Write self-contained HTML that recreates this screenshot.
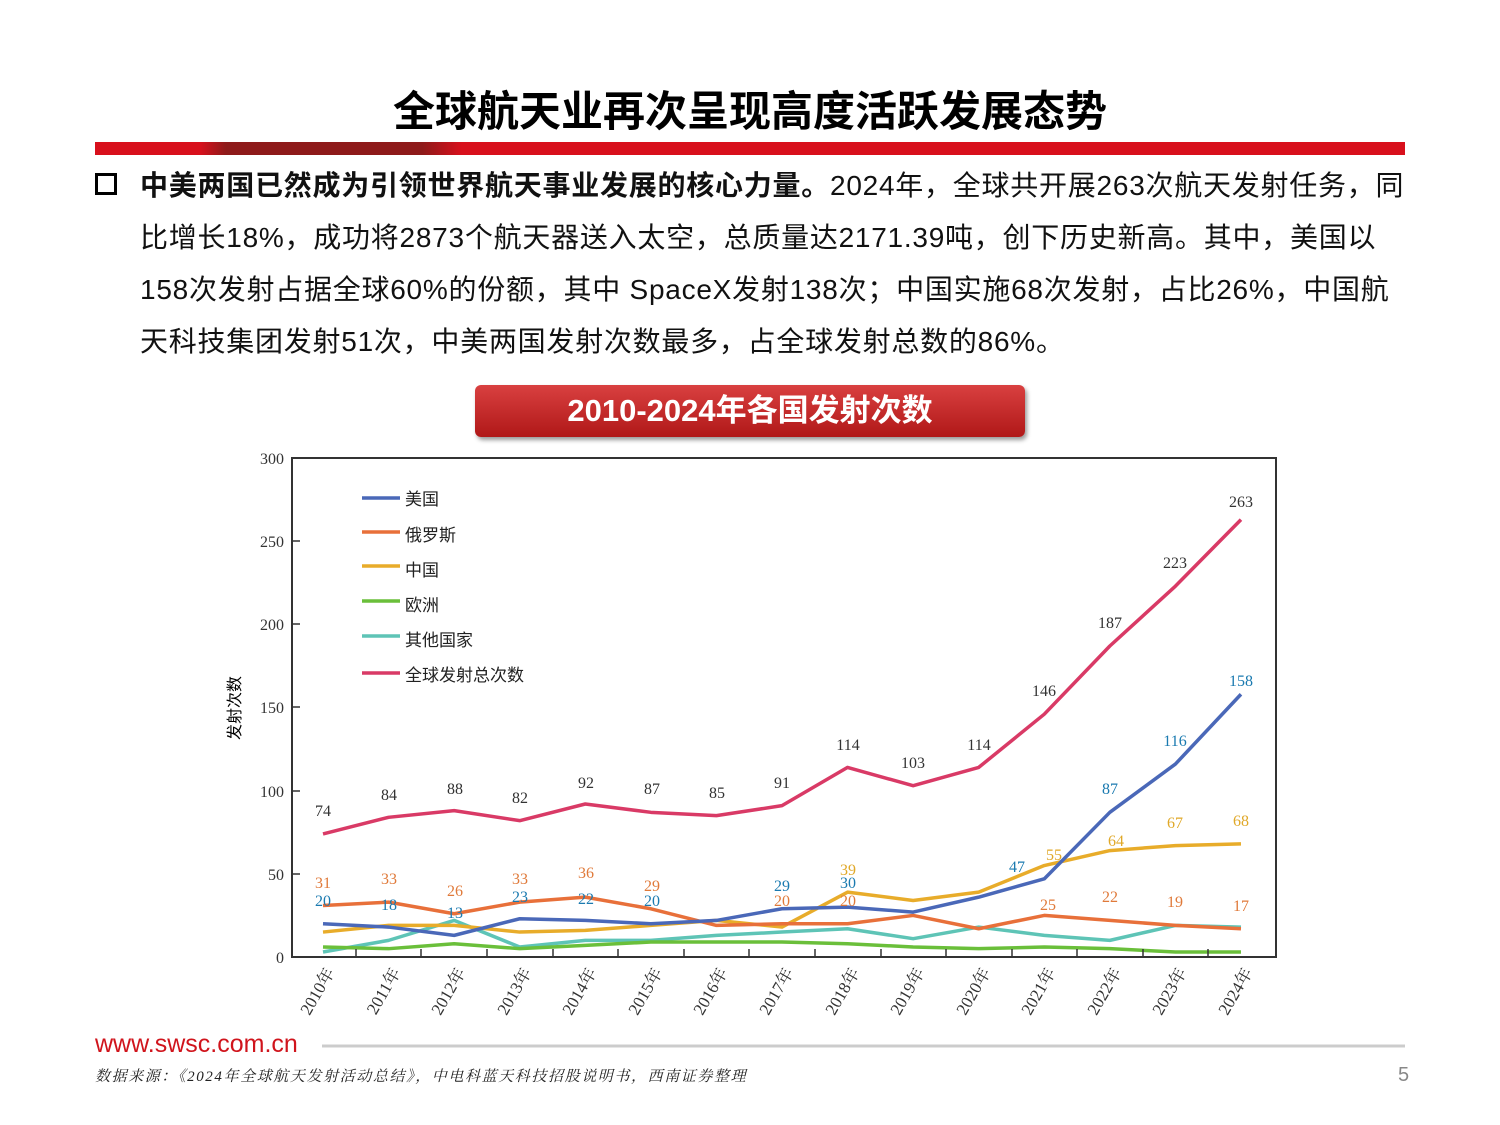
<!DOCTYPE html>
<html><head><meta charset="utf-8"><style>
body{margin:0;width:1500px;height:1125px;background:#fff;position:relative;overflow:hidden;font-family:"Liberation Sans","Noto Sans CJK SC",sans-serif}
.a{position:absolute;white-space:nowrap}
.t{font-size:28px;color:#111;letter-spacing:0.75px}
</style></head><body>
<div class="a" style="left:0;width:1500px;text-align:center;top:78px;font-size:42px;font-weight:bold;color:#000">全球航天业再次呈现高度活跃发展态势</div>
<div class="a" style="left:95px;top:142px;width:1310px;height:13px;background:linear-gradient(90deg,#d8101c 0,#d8101c 8%,#8e1a1a 10%,#8e1a1a 25%,#d8101c 28%,#d8101c 100%)"></div>
<div class="a" style="left:95px;top:173px;width:16px;height:16px;border:3px solid #000"></div>
<div class="a t" style="left:140px;top:164px"><b>中美两国已然成为引领世界航天事业发展的核心力量。</b>2024年，全球共开展263次航天发射任务，同</div>
<div class="a t" style="left:140px;top:216px">比增长18%，成功将2873个航天器送入太空，总质量达2171.39吨，创下历史新高。其中，美国以</div>
<div class="a t" style="left:140px;top:268px">158次发射占据全球60%的份额，其中 SpaceX发射138次；中国实施68次发射，占比26%，中国航</div>
<div class="a t" style="left:140px;top:320px">天科技集团发射51次，中美两国发射次数最多，占全球发射总数的86%。</div>
<div class="a" style="left:475px;top:385px;width:550px;height:52px;border-radius:6px;background:linear-gradient(#d94040,#b01818);box-shadow:2px 3px 4px #999;color:#fff;font-size:31px;font-weight:bold;text-align:center;line-height:52px">2010-2024年各国发射次数</div>
<svg class="a" style="left:0;top:0" width="1500" height="1125" font-family="Liberation Serif,Noto Serif CJK SC,serif">
<rect x="292" y="458" width="984" height="499" fill="none" stroke="#333" stroke-width="2"/>
<g font-size="16" fill="#333" text-anchor="end">
<text x="284" y="963">0</text><text x="284" y="880">50</text><text x="284" y="797">100</text><text x="284" y="713">150</text><text x="284" y="630">200</text><text x="284" y="547">250</text><text x="284" y="464">300</text></g>
<g stroke="#333" stroke-width="1.5">
<line x1="292" x2="300" y1="874" y2="874"/><line x1="292" x2="300" y1="791" y2="791"/><line x1="292" x2="300" y1="707" y2="707"/><line x1="292" x2="300" y1="624" y2="624"/><line x1="292" x2="300" y1="541" y2="541"/>
</g>
<text transform="translate(240,708) rotate(-90)" font-size="16" text-anchor="middle" font-family="Noto Sans CJK SC,sans-serif">发射次数</text>
<g transform="translate(323,957) scale(65.57,-1.663)" fill="none" stroke-width="3.5" stroke-linejoin="round">
<polyline vector-effect="non-scaling-stroke" stroke="#5ec4b6" points="0,3 1,10 2,22 3,6 4,10 5,10 6,13 7,15 8,17 9,11 10,18 11,13 12,10 13,19 14,18"/>
<polyline vector-effect="non-scaling-stroke" stroke="#6abf3a" points="0,6 1,5 2,8 3,5 4,7 5,9 6,9 7,9 8,8 9,6 10,5 11,6 12,5 13,3 14,3"/>
<polyline vector-effect="non-scaling-stroke" stroke="#e8ac2a" points="0,15 1,19 2,19 3,15 4,16 5,19 6,22 7,18 8,39 9,34 10,39 11,55 12,64 13,67 14,68"/>
<polyline vector-effect="non-scaling-stroke" stroke="#e8703a" points="0,31 1,33 2,26 3,33 4,36 5,29 6,19 7,20 8,20 9,25 10,17 11,25 12,22 13,19 14,17"/>
<polyline vector-effect="non-scaling-stroke" stroke="#4a68b8" points="0,20 1,18 2,13 3,23 4,22 5,20 6,22 7,29 8,30 9,27 10,36 11,47 12,87 13,116 14,158"/>
<polyline vector-effect="non-scaling-stroke" stroke="#d93a66" points="0,74 1,84 2,88 3,82 4,92 5,87 6,85 7,91 8,114 9,103 10,114 11,146 12,187 13,223 14,263"/>
</g>
<g font-size="16" text-anchor="middle" fill="#333">
<text x="323" y="816">74</text><text x="389" y="800">84</text><text x="455" y="794">88</text><text x="520" y="803">82</text><text x="586" y="788">92</text><text x="652" y="794">87</text><text x="717" y="798">85</text><text x="782" y="788">91</text><text x="848" y="750">114</text><text x="913" y="768">103</text><text x="979" y="750">114</text><text x="1044" y="696">146</text><text x="1110" y="628">187</text><text x="1175" y="568">223</text><text x="1241" y="507">263</text>
</g>
<g font-size="16" text-anchor="middle" fill="#e07a3a">
<text x="323" y="888">31</text><text x="389" y="884">33</text><text x="455" y="896">26</text><text x="520" y="884">33</text><text x="586" y="878">36</text><text x="652" y="891">29</text><text x="782" y="906">20</text><text x="848" y="906">20</text><text x="1048" y="910">25</text><text x="1110" y="902">22</text><text x="1175" y="907">19</text><text x="1241" y="911">17</text>
</g>
<g font-size="16" text-anchor="middle" fill="#1a7ab0">
<text x="323" y="906">20</text><text x="389" y="910">18</text><text x="455" y="918">13</text><text x="520" y="902">23</text><text x="586" y="904">22</text><text x="652" y="906">20</text><text x="782" y="891">29</text><text x="848" y="888">30</text><text x="1017" y="872">47</text><text x="1110" y="794">87</text><text x="1175" y="746">116</text><text x="1241" y="686">158</text>
</g>
<g font-size="16" text-anchor="middle" fill="#e0a828">
<text x="848" y="875">39</text><text x="1054" y="860">55</text><text x="1116" y="846">64</text><text x="1175" y="828">67</text><text x="1241" y="826">68</text>
</g>
<g stroke-width="3.5">
<line x1="362" x2="400" y1="498" y2="498" stroke="#4a68b8"/><line x1="362" x2="400" y1="532" y2="532" stroke="#e8703a"/><line x1="362" x2="400" y1="566" y2="566" stroke="#e8ac2a"/><line x1="362" x2="400" y1="601" y2="601" stroke="#6abf3a"/><line x1="362" x2="400" y1="636" y2="636" stroke="#5ec4b6"/><line x1="362" x2="400" y1="673" y2="673" stroke="#d93a66"/>
</g>
<g font-size="17" fill="#222" font-family="Noto Sans CJK SC,sans-serif">
<text x="405" y="505">美国</text><text x="405" y="541">俄罗斯</text><text x="405" y="576">中国</text><text x="405" y="611">欧洲</text><text x="405" y="646">其他国家</text><text x="405" y="681">全球发射总次数</text>
</g>
<g font-size="17" fill="#333" text-anchor="end">
<text transform="translate(335,972) rotate(-60)">2010年</text><text transform="translate(401,972) rotate(-60)">2011年</text><text transform="translate(466,972) rotate(-60)">2012年</text><text transform="translate(532,972) rotate(-60)">2013年</text><text transform="translate(597,972) rotate(-60)">2014年</text><text transform="translate(663,972) rotate(-60)">2015年</text><text transform="translate(728,972) rotate(-60)">2016年</text><text transform="translate(794,972) rotate(-60)">2017年</text><text transform="translate(860,972) rotate(-60)">2018年</text><text transform="translate(925,972) rotate(-60)">2019年</text><text transform="translate(991,972) rotate(-60)">2020年</text><text transform="translate(1056,972) rotate(-60)">2021年</text><text transform="translate(1122,972) rotate(-60)">2022年</text><text transform="translate(1187,972) rotate(-60)">2023年</text><text transform="translate(1253,972) rotate(-60)">2024年</text>
</g>
<g stroke="#333" stroke-width="1.5">
<line x1="356" x2="356" y1="957" y2="949"/><line x1="421" x2="421" y1="957" y2="949"/><line x1="487" x2="487" y1="957" y2="949"/><line x1="553" x2="553" y1="957" y2="949"/><line x1="618" x2="618" y1="957" y2="949"/><line x1="684" x2="684" y1="957" y2="949"/><line x1="749" x2="749" y1="957" y2="949"/><line x1="815" x2="815" y1="957" y2="949"/><line x1="881" x2="881" y1="957" y2="949"/><line x1="946" x2="946" y1="957" y2="949"/><line x1="1012" x2="1012" y1="957" y2="949"/><line x1="1077" x2="1077" y1="957" y2="949"/><line x1="1143" x2="1143" y1="957" y2="949"/><line x1="1208" x2="1208" y1="957" y2="949"/>
</g>
<line x1="322" x2="1405" y1="1046" y2="1046" stroke="#ccc" stroke-width="3"/>
</svg>
<div class="a" style="left:95px;top:1030px;font-size:25px;color:#d0141c">www.swsc.com.cn</div>
<div class="a" style="left:95px;top:1065px;font-size:15px;letter-spacing:1.6px;font-style:italic;color:#222;font-family:'Liberation Serif','Noto Serif CJK SC',serif">数据来源：《2024年全球航天发射活动总结》，中电科蓝天科技招股说明书，西南证券整理</div>
<div class="a" style="left:1398px;top:1064px;font-size:20px;color:#888">5</div>
</body></html>
